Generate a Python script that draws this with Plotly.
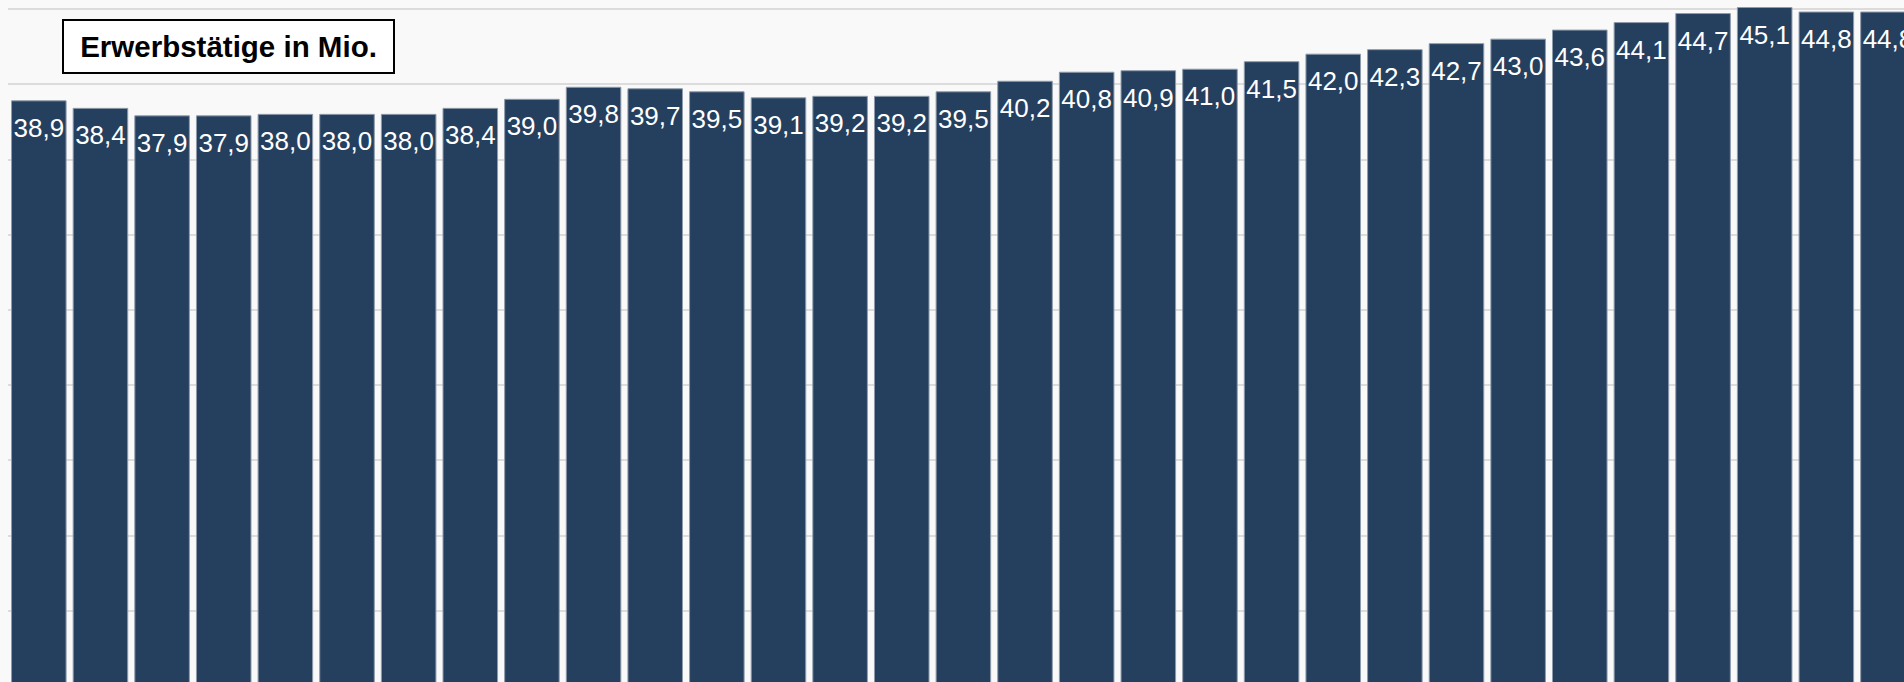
import plotly.graph_objects as go

years = [str(y) for y in range(1991, 2022)]
values = [38.9, 38.4, 37.9, 37.9, 38.0, 38.0, 38.0, 38.4, 39.0, 39.8,
          39.7, 39.5, 39.1, 39.2, 39.2, 39.5, 40.2, 40.8, 40.9, 41.0,
          41.5, 42.0, 42.3, 42.7, 43.0, 43.6, 44.1, 44.7, 45.1, 44.8,
          44.8]
labels = [f"{v:.1f}".replace(".", ",") for v in values]
title_text = "Erwerbstätige in Mio."

BAR = "#253f5f"
BG = "#f9f9f9"
FONT = "Liberation Sans, Arial, sans-serif"

fig = go.Figure()
fig.add_trace(go.Bar(
    x=years, y=values,
    marker=dict(color=BAR, line=dict(color="#8e9bab", width=1)),
    hoverinfo="skip",
))
fig.add_trace(go.Scatter(
    x=years, y=values, mode="markers+text", text=labels,
    textposition="bottom center",
    marker=dict(size=25, color="rgba(0,0,0,0)"),
    textfont=dict(family=FONT, size=26, color="white"),
    hoverinfo="skip", cliponaxis=True,
))

W, H, L = 1904, 682, 8
fig.add_annotation(
    xref="paper", yref="paper",
    x=(228 - L) / (W - L), y=1 - 46.3 / H,
    xanchor="center", yanchor="middle",
    text="<b>" + title_text + "</b>", showarrow=False,
    font=dict(family=FONT, size=29.5, color="black"),
    bgcolor="white", bordercolor="black", borderwidth=2, borderpad=1,
    width=327, height=49,
)

fig.update_layout(
    width=W, height=H,
    margin=dict(l=L, r=0, t=0, b=0),
    paper_bgcolor=BG, plot_bgcolor=BG,
    bargap=0.115,
    showlegend=False,
    xaxis=dict(type="category", range=[-0.5, 30.26], showticklabels=False,
               showgrid=False, zeroline=False, showline=False, ticks=""),
    yaxis=dict(range=[0.28, 45.6], dtick=5, tick0=0, showticklabels=False,
               showgrid=True, gridcolor="#dcdcdc", gridwidth=2,
               zeroline=False, showline=False, ticks=""),
)

fig.write_html("out.html")
